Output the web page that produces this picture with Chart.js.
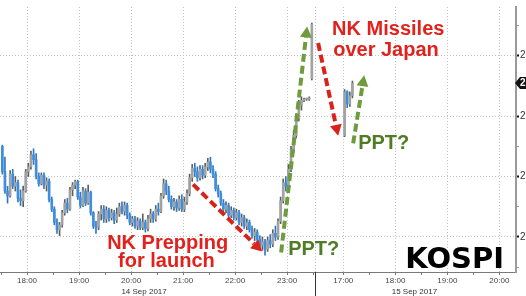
<!DOCTYPE html>
<html><head><meta charset="utf-8">
<script src="https://cdn.jsdelivr.net/npm/chart.js@4/dist/chart.umd.min.js"></script>
<style>html,body{margin:0;padding:0;background:#fff;overflow:hidden}</style>
</head><body>
<canvas id="c" width="526" height="296"></canvas>
<script>
// ---------- DATA ----------
// 14 Sep 2017 session, 3-minute candles from 17:30
const open1 = [2367.5,2365.4,2363.8,2363.4,2365.2,2364.2,2364.5,2363.2,2363.0,2363.8,2365.4,2365.8,2366.8,2366.4,2365.0,2364.4,2365.1,2364.3,2364.6,2363.1,2362.3,2361.2,2360.6,2361.0,2362.0,2362.8,2362.3,2363.9,2364.3,2364.6,2363.3,2362.6,2363.8,2362.8,2363.7,2362.0,2360.9,2360.8,2361.9,2362.3,2361.5,2362.2,2361.6,2362.0,2361.4,2361.9,2362.5,2362.1,2362.6,2361.8,2361.2,2361.5,2360.9,2361.3,2360.8,2361.2,2360.7,2361.5,2361.9,2361.5,2362.3,2362.1,2363.4,2364.4,2363.8,2363.1,2362.5,2362.9,2362.4,2363.1,2362.3,2362.9,2363.6,2364.9,2365.7,2365.4,2364.9,2365.6,2365.1,2365.8,2366.2,2365.6,2365.2,2364.0,2363.6,2362.8,2362.3,2362.6,2361.8,2362.2,2361.6,2362.0,2361.2,2361.6,2360.9,2361.2,2360.6,2360.1,2360.4,2359.8,2359.3,2359.6,2359.0,2359.7,2359.4,2360.3,2360.0,2361.3,2363.0,2364.5,2364.2,2365.6,2367.2,2368.4,2369.8,2370.9,2371.3,2371.4,2371.4,2373.1];
const high1 = [2367.6,2366.6,2364.2,2365.5,2365.6,2365.0,2364.7,2363.9,2364.2,2365.6,2366.1,2367.1,2367.3,2366.9,2365.3,2365.3,2365.3,2364.9,2364.8,2363.3,2362.5,2361.5,2361.2,2362.2,2363.1,2363.2,2364.1,2364.5,2364.7,2364.7,2363.7,2364.1,2364.0,2364.3,2363.8,2362.1,2361.3,2362.1,2362.6,2362.6,2362.5,2362.4,2362.3,2362.2,2362.4,2362.8,2362.9,2362.9,2362.8,2362.0,2361.7,2361.7,2361.6,2361.5,2361.9,2361.4,2361.8,2362.3,2362.1,2362.6,2362.8,2363.6,2364.8,2364.7,2364.2,2363.4,2363.2,2363.1,2363.4,2363.5,2363.3,2363.9,2365.2,2366.0,2366.1,2365.8,2365.9,2365.9,2366.1,2366.5,2366.6,2365.9,2365.4,2364.3,2363.8,2363.1,2362.9,2362.8,2362.5,2362.4,2362.3,2362.2,2361.9,2361.8,2361.5,2361.4,2360.9,2360.7,2360.6,2360.1,2360.0,2359.8,2360.0,2360.2,2360.6,2360.9,2361.5,2363.3,2364.8,2365.0,2366.0,2367.5,2368.8,2370.2,2371.3,2371.6,2371.5,2371.5,2371.6,2377.7];
const low1 = [2365.2,2363.6,2362.8,2363.3,2364.0,2363.8,2362.9,2362.6,2362.5,2363.7,2365.0,2365.6,2366.0,2364.8,2364.2,2364.3,2364.0,2363.8,2362.9,2362.1,2361.0,2360.3,2360.1,2360.8,2361.8,2362.0,2362.2,2363.4,2364.0,2363.1,2362.4,2362.5,2362.6,2362.7,2361.8,2360.7,2360.3,2360.6,2361.4,2361.2,2361.2,2361.3,2361.4,2361.1,2361.2,2361.7,2361.9,2361.8,2361.5,2361.0,2360.9,2360.7,2360.6,2360.6,2360.6,2360.4,2360.5,2361.2,2361.2,2361.3,2361.8,2362.0,2363.2,2363.5,2362.9,2362.3,2362.2,2362.1,2362.2,2362.1,2362.1,2362.7,2363.4,2364.6,2365.0,2364.6,2364.7,2364.8,2364.9,2365.5,2365.3,2364.9,2363.8,2363.3,2362.6,2362.0,2362.0,2361.6,2361.6,2361.4,2361.4,2361.0,2360.9,2360.7,2360.6,2360.4,2359.9,2359.7,2359.5,2359.0,2358.9,2358.5,2358.8,2359.1,2359.2,2359.7,2359.8,2361.1,2362.8,2363.8,2364.0,2365.4,2367.0,2368.2,2369.6,2370.5,2371.2,2371.3,2371.3,2373.0];
const close1 = [2365.4,2363.8,2363.4,2365.2,2364.2,2364.5,2363.2,2363.0,2363.8,2365.4,2365.8,2366.8,2366.4,2365.0,2364.4,2365.1,2364.3,2364.6,2363.1,2362.3,2361.2,2360.6,2361.0,2362.0,2362.8,2362.3,2363.9,2364.3,2364.6,2363.3,2362.6,2363.8,2362.8,2363.7,2362.0,2360.9,2360.8,2361.9,2362.3,2361.5,2362.2,2361.6,2362.0,2361.4,2361.9,2362.5,2362.1,2362.6,2361.8,2361.2,2361.5,2360.9,2361.3,2360.8,2361.2,2360.7,2361.5,2361.9,2361.5,2362.3,2362.1,2363.4,2364.4,2363.8,2363.1,2362.5,2362.9,2362.4,2363.1,2362.3,2362.9,2363.6,2364.9,2365.7,2365.4,2364.9,2365.6,2365.1,2365.8,2366.2,2365.6,2365.2,2364.0,2363.6,2362.8,2362.3,2362.6,2361.8,2362.2,2361.6,2362.0,2361.2,2361.6,2360.9,2361.2,2360.6,2360.1,2360.4,2359.8,2359.3,2359.6,2359.0,2359.7,2359.4,2360.3,2360.0,2361.3,2363.0,2364.5,2364.2,2365.6,2367.2,2368.4,2369.8,2370.9,2371.3,2371.4,2371.4,2371.5,2377.6];
// 15 Sep 2017 session, 3-minute candles from 17:00
const open2  = [2368.4,2372.0,2371.0,2371.7];
const high2  = [2372.2,2372.1,2372.0,2372.9];
const low2   = [2368.3,2370.7,2370.8,2371.5];
const close2 = [2372.0,2371.0,2371.7,2372.7];

const yGridValues  = [2360, 2365, 2370, 2375];
const yMinorValues = [2357.5, 2362.5, 2367.5, 2372.5, 2377.5];
const xHourLabels1 = ['18:00','19:00','20:00','21:00','22:00','23:00'];
const xHourLabels2 = ['17:00','18:00','19:00','20:00'];
const xHalfHours1  = ['17:30','18:30','19:30','20:30','21:30','22:30','23:30'];
const xHalfHours2  = ['17:30','18:30','19:30'];
const dateLabels   = ['14 Sep 2017','15 Sep 2017'];
const chartTitle   = 'KOSPI';

// ---------- LAYOUT ----------
const SESSIONS = [{start:'17:30', offset:0}, {start:'16:30', offset:6.08}];
const CANDLE_MIN = 3;
const mins = s => { const [h,m] = s.split(':').map(Number); return h*60+m; };
const toP = (day, hhmm) => SESSIONS[day].offset + (mins(hhmm) - mins(SESSIONS[day].start))/60;

function buildCandles(day, first, o, h, l, c){
  return o.map((ov,i)=>({x: toP(day, first) + (i*CANDLE_MIN + CANDLE_MIN/2)/60, o:ov, h:h[i], l:l[i], c:c[i]}));
}
const candles = [...buildCandles(0,'17:30',open1,high1,low1,close1), ...buildCandles(1,'17:00',open2,high2,low2,close2)];
const UP_BODY='#a2a2a2', UP_WICK='#5e5e5e', DN_BODY='#3f8ede', DN_WICK='#2f78c4';
const bodyData = candles.map(k=>({x:k.x, y:[Math.min(k.o,k.c), Math.max(k.o,k.c)]}));
const wickData = candles.map(k=>({x:k.x, y:[k.l, k.h]}));
const bodyCol = candles.map(k=> k.c>=k.o ? UP_BODY : DN_BODY);
const wickCol = candles.map(k=> k.c>=k.o ? UP_WICK : DN_WICK);

const xTicks = [];
xHalfHours1.forEach(t=>xTicks.push({v:toP(0,t), label:'', major:false}));
xHourLabels1.forEach(t=>xTicks.push({v:toP(0,t), label:t, major:true}));
xHalfHours2.forEach(t=>xTicks.push({v:toP(1,t), label:'', major:false}));
xHourLabels2.forEach(t=>xTicks.push({v:toP(1,t), label:t, major:true}));
xTicks.sort((a,b)=>a.v-b.v);

const RED='#e2211c', RED_ARROW='#d8231d', GREEN_TXT='#4f7c24', GREEN_ARROW='#6e9c3c';
const NOTES = [
  {t:'NK Missiles', x:6.365, y:2376.73, c:RED, f:'bold 20px "Liberation Sans", Arial, sans-serif'},
  {t:'over Japan',  x:6.385, y:2375.0,  c:RED, f:'bold 20px "Liberation Sans", Arial, sans-serif'},
  {t:'NK Prepping', x:2.04,  y:2359.03, c:RED, f:'bold 20px "Liberation Sans", Arial, sans-serif'},
  {t:'for launch',  x:2.25,  y:2357.5,  c:RED, f:'bold 20px "Liberation Sans", Arial, sans-serif'},
  {t:'PPT?',        x:5.52,  y:2358.47, c:GREEN_TXT, f:'bold 20px "Liberation Sans", Arial, sans-serif'},
  {t:'PPT?',        x:6.865, y:2367.26, c:GREEN_TXT, f:'bold 20px "Liberation Sans", Arial, sans-serif'},
  {t:chartTitle,    x:7.77,  y:2357.42, c:'#000', f:'bold 29px "DejaVu Sans", sans-serif'}
];
const ARROWS = [
  {a:[3.692,2364.35], b:[5.019,2358.79], c:RED_ARROW},
  {a:[5.385,2358.71], b:[5.885,2377.42], c:GREEN_ARROW},
  {a:[6.096,2376.05], b:[6.481,2368.38], c:RED_ARROW},
  {a:[6.769,2367.74], b:[6.981,2373.38], c:GREEN_ARROW}
];
const DATE_ANCHORS = [toP(0,'20:15'), toP(1,'18:22')];
const SEPARATOR = toP(1,'16:30') - 0.04;

const overlay = {
  id:'overlay',
  afterDraw(chart){
    const {ctx, chartArea:ca, scales:{x, y}} = chart;
    ctx.save();
    const sx = Math.round(x.getPixelForValue(SEPARATOR))+0.5;
    ctx.strokeStyle='#bdbdbd'; ctx.lineWidth=1; ctx.setLineDash([1,2]);
    ctx.beginPath(); ctx.moveTo(sx, ca.top); ctx.lineTo(sx, ca.bottom); ctx.stroke();
    ctx.setLineDash([]); ctx.strokeStyle='#333';
    ctx.beginPath(); ctx.moveTo(sx, ca.bottom); ctx.lineTo(sx, chart.height); ctx.stroke();
    ctx.fillStyle='#333'; ctx.font='8px "Liberation Sans", Arial, sans-serif'; ctx.textAlign='center'; ctx.textBaseline='alphabetic';
    dateLabels.forEach((d,i)=>ctx.fillText(d, x.getPixelForValue(DATE_ANCHORS[i]), 294));
    ARROWS.forEach(ar=>{
      const x1=x.getPixelForValue(ar.a[0]), y1=y.getPixelForValue(ar.a[1]);
      const x2=x.getPixelForValue(ar.b[0]), y2=y.getPixelForValue(ar.b[1]);
      const L=Math.hypot(x2-x1,y2-y1), ux=(x2-x1)/L, uy=(y2-y1)/L, head=11, hw=6;
      ctx.strokeStyle=ar.c; ctx.fillStyle=ar.c; ctx.lineWidth=4; ctx.setLineDash([8,4]);
      ctx.beginPath(); ctx.moveTo(x1,y1); ctx.lineTo(x2-ux*head, y2-uy*head); ctx.stroke();
      ctx.setLineDash([]);
      ctx.beginPath(); ctx.moveTo(x2,y2);
      ctx.lineTo(x2-ux*head-uy*hw, y2-uy*head+ux*hw);
      ctx.lineTo(x2-ux*head+uy*hw, y2-uy*head-ux*hw);
      ctx.closePath(); ctx.fill();
    });
    ctx.textAlign='left'; ctx.textBaseline='alphabetic';
    NOTES.forEach(n=>{ ctx.font=n.f; ctx.fillStyle=n.c; ctx.fillText(n.t, x.getPixelForValue(n.x), y.getPixelForValue(n.y)); });
    const last = candles[candles.length-1].c;
    const ty = Math.round(y.getPixelForValue(last));
    ctx.fillStyle='#111';
    ctx.beginPath(); ctx.moveTo(ca.right-1, ty); ctx.lineTo(ca.right+4, ty-6); ctx.lineTo(chart.width, ty-6);
    ctx.lineTo(chart.width, ty+6); ctx.lineTo(ca.right+4, ty+6); ctx.closePath(); ctx.fill();
    ctx.fillStyle='#fff'; ctx.font='bold 10px "Liberation Sans", Arial, sans-serif'; ctx.textBaseline='middle';
    ctx.fillText(last.toLocaleString('en-US',{minimumFractionDigits:2}), ca.right+4, ty+0.5);
    ctx.restore();
  }
};

new Chart(document.getElementById('c'), {
  type:'bar',
  data:{datasets:[
    {data:bodyData, backgroundColor:bodyCol, barThickness:2, minBarLength:1, grouped:false, order:0, borderWidth:0},
    {data:wickData, backgroundColor:wickCol, barThickness:1, grouped:false, order:1, borderWidth:0}
  ]},
  options:{
    responsive:false, animation:false, devicePixelRatio:1,
    layout:{padding:0},
    plugins:{legend:{display:false}, tooltip:{enabled:false}},
    scales:{
      x:{
        type:'linear', min:-0.02, max:9.9, offset:false,
        afterBuildTicks:s=>{ s.ticks = xTicks.map(t=>({value:t.v})); },
        afterFit:s=>{ s.height = 24; },
        ticks:{autoSkip:false, maxRotation:0, minRotation:0, padding:1, color:'#444',
               font:{family:'"Liberation Sans", Arial, sans-serif', size:8},
               callback:(v,i)=> xTicks[i] ? xTicks[i].label : ''},
        grid:{offset:false, lineWidth:1, tickLength:3, tickColor:'#777',
              color:c=> (c.tick && xTicks.find(t=>Math.abs(t.v-c.tick.value)<1e-6 && t.major)) ? '#c2c2c2' : 'transparent'},
        border:{display:true, color:'#7a7a7a', width:1, dash:[1,2]}
      },
      y:{
        type:'linear', position:'right', min:2357.1, max:2379.03,
        afterBuildTicks:s=>{ s.ticks = [...yMinorValues, ...yGridValues].sort((a,b)=>a-b).map(v=>({value:v})); },
        afterFit:s=>{ s.width = 10; },
        ticks:{padding:1, color:'#333', font:{family:'"Liberation Sans", Arial, sans-serif', size:10},
               callback:v=> yGridValues.includes(v) ? v.toLocaleString('en-US') : ''},
        grid:{lineWidth:1, tickLength:3,
              tickWidth:c=> (c.tick && yGridValues.includes(c.tick.value)) ? 2 : 1,
              tickColor:c=> (c.tick && yGridValues.includes(c.tick.value)) ? '#111' : '#999',
              color:c=> (c.tick && yGridValues.includes(c.tick.value)) ? '#c2c2c2' : 'transparent'},
        border:{display:true, color:'#9a9a9a', width:2, dash:[1,2]}
      }
    }
  },
  plugins:[overlay]
});
</script>
</body></html>
